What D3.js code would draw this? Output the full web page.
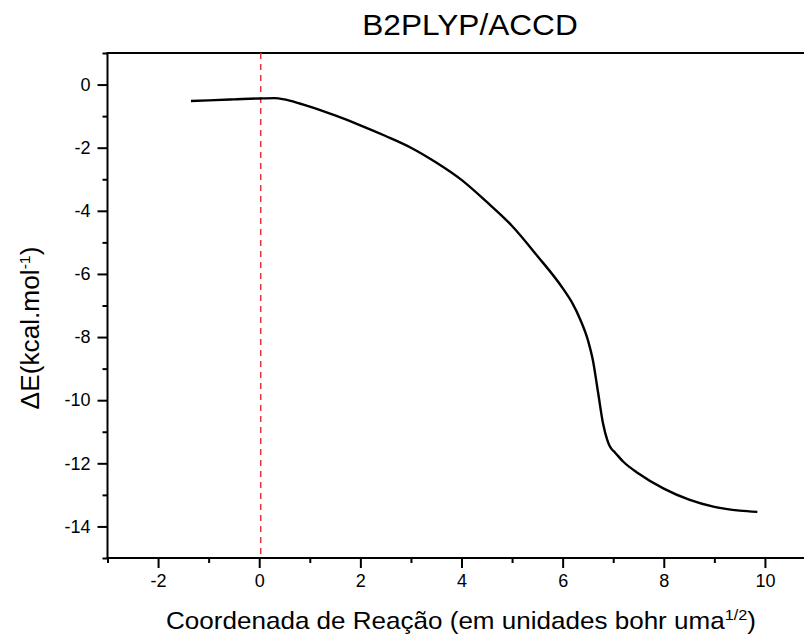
<!DOCTYPE html>
<html>
<head>
<meta charset="utf-8">
<script src="https://cdn.jsdelivr.net/npm/d3@7"></script>
<style>
  body { margin: 0; background: #fff; }
  text { font-family: "Liberation Sans", Arial, sans-serif; fill: #000; }
  .axis text { font-size: 18px; }
</style>
</head>
<body>
<div id="chart"></div>
<script>
// reaction coordinate (bohr amu^1/2) and energy (kcal/mol)
var coord = [-1.35, -1.0, -0.5, 0.0, 0.3, 0.5, 0.8, 1.0, 1.5, 2.0, 2.5, 3.0, 3.5, 4.0, 4.5, 5.0, 5.5, 6.0, 6.2, 6.35, 6.5, 6.6, 6.7, 6.8, 6.88, 6.93, 6.97, 7.03, 7.2, 7.5, 8.0, 8.5, 9.0, 9.5, 9.85];
var energy = [-0.52, -0.5, -0.47, -0.44, -0.43, -0.47, -0.6, -0.7, -0.98, -1.29, -1.63, -2.0, -2.47, -3.02, -3.72, -4.48, -5.43, -6.45, -6.95, -7.45, -8.1, -8.75, -9.75, -10.75, -11.25, -11.45, -11.55, -11.65, -11.95, -12.32, -12.8, -13.15, -13.38, -13.5, -13.54];
var xMajor = [-2, 0, 2, 4, 6, 8, 10];
var xMinor = [-3, -1, 1, 3, 5, 7, 9, 11];
var yMajor = [-14, -12, -10, -8, -6, -4, -2, 0];
var yMinor = [-15, -13, -11, -9, -7, -5, -3, -1, 1];
var tsMark = 0.03;

var width = 804, height = 637;
var padding = {left: 107.5, right: -11.5, top: 53, bottom: 79};

var svg = d3.select("#chart")
            .append("svg")
              .attr("width", width)
              .attr("height", height);

var xScale = d3.scaleLinear()
               .domain([-3, 11])
               .range([padding.left, width - padding.right]);
var yScale = d3.scaleLinear()
               .domain([-15, 1])
               .range([height - padding.bottom, padding.top]);

var y0 = height - padding.bottom;

// minor ticks
svg.append("g")
   .attr("class", "axis")
   .attr("transform", "translate(0," + y0 + ")")
   .call(d3.axisBottom(xScale).tickValues(xMinor).tickSize(5).tickFormat(""));
svg.append("g")
   .attr("class", "axis")
   .attr("transform", "translate(" + padding.left + ",0)")
   .call(d3.axisLeft(yScale).tickValues(yMinor).tickSize(5).tickFormat(""));

// major ticks
svg.append("g")
   .attr("class", "axis")
   .attr("transform", "translate(0," + y0 + ")")
   .call(d3.axisBottom(xScale).tickValues(xMajor).tickSize(10).tickPadding(6).tickFormat(d3.format("d")));
svg.append("g")
   .attr("class", "axis")
   .attr("transform", "translate(" + padding.left + ",0)")
   .call(d3.axisLeft(yScale).tickValues(yMajor).tickSize(10).tickPadding(7).tickFormat(d3.format("d")));

svg.selectAll(".axis .domain").remove();
svg.selectAll(".axis line").attr("stroke", "#000").attr("stroke-width", 2);
svg.selectAll(".axis text").text(function() { return this.textContent.replace("−", "-"); });

// frame
svg.append("rect")
   .attr("x", xScale(-3))
   .attr("y", yScale(1))
   .attr("width", xScale(11) - xScale(-3))
   .attr("height", yScale(-15) - yScale(1))
   .attr("fill", "none")
   .attr("stroke", "#000")
   .attr("stroke-width", 2);

// TS marker
svg.append("line")
   .attr("x1", xScale(tsMark)).attr("x2", xScale(tsMark))
   .attr("y1", yScale(1)).attr("y2", yScale(-15))
   .attr("stroke", "#e8343c")
   .attr("stroke-width", 1.5)
   .attr("stroke-dasharray", "6,5");

var line = d3.line()
             .x(function(d, i) { return xScale(coord[i]); })
             .y(function(d) { return yScale(d); })
             .curve(d3.curveMonotoneX);

svg.append("path")
   .datum(energy)
   .attr("d", line)
   .attr("fill", "none")
   .attr("stroke", "#000")
   .attr("stroke-width", 2.4)
   .attr("stroke-linejoin", "round");

// titles
svg.append("text")
   .attr("transform", "translate(470,35) scale(1.09,1)")
   .attr("text-anchor", "middle")
   .style("font-size", "29px")
   .text("B2PLYP/ACCD");

var xl = svg.append("text")
   .attr("transform", "translate(461,629) scale(1.085,1)")
   .attr("text-anchor", "middle")
   .style("font-size", "24px");
xl.append("tspan").text("Coordenada de Reação (em unidades bohr uma");
xl.append("tspan").attr("dy", -9).style("font-size", "15px").text("1/2");
xl.append("tspan").attr("dy", 9).text(")");

var yl = svg.append("text")
   .attr("transform", "translate(39,328) rotate(-90) scale(1.05,1)")
   .attr("text-anchor", "middle")
   .style("font-size", "25px");
yl.append("tspan").text("ΔE(kcal.mol");
yl.append("tspan").attr("dy", -9).style("font-size", "15px").text("-1");
yl.append("tspan").attr("dy", 9).text(")");
</script>
</body>
</html>
